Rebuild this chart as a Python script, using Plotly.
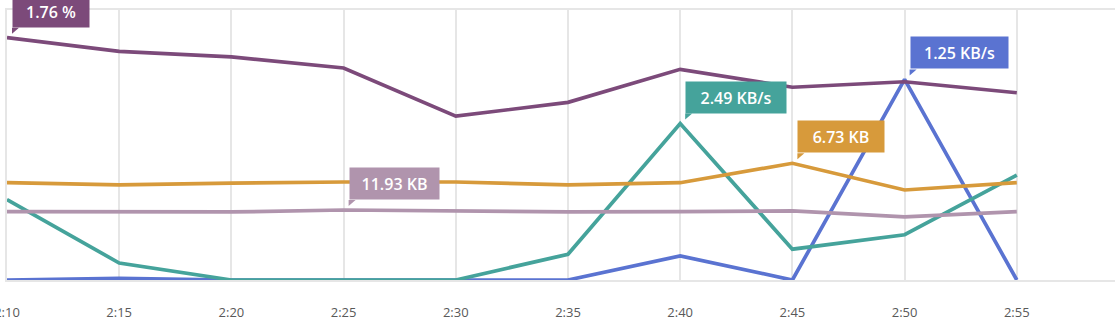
import plotly.graph_objects as go

# ---- data -------------------------------------------------------------
times = ["2024-01-01 02:10", "2024-01-01 02:15", "2024-01-01 02:20", "2024-01-01 02:25",
         "2024-01-01 02:30", "2024-01-01 02:35", "2024-01-01 02:40", "2024-01-01 02:45",
         "2024-01-01 02:50", "2024-01-01 02:55"]

cpu_pct = [1.76, 1.66, 1.62, 1.54, 1.19, 1.29, 1.53, 1.40, 1.44, 1.36]          # %
mem_kb = [5.61, 5.48, 5.59, 5.65, 5.65, 5.48, 5.61, 6.73, 5.19, 5.61]           # KB
heap_kb = [11.64, 11.59, 11.59, 11.93, 11.76, 11.59, 11.64, 11.76, 10.74, 11.64]  # KB
net_in = [1.28, 0.27, 0.0, 0.0, 0.0, 0.41, 2.49, 0.49, 0.72, 1.67]              # KB/s
net_out = [0.0, 0.01, 0.0, 0.0, 0.0, 0.0, 0.15, 0.0, 1.25, 0.0]                 # KB/s

# ---- series styling (drawn bottom to top) --------------------------------
series = [
    # values, unit, colour, axis top, label box width
    dict(values=net_out, unit="KB/s", color="#5A73D1", top=1.683, box=97),
    dict(values=net_in, unit="KB/s", color="#45A39B", top=4.296, box=100),
    dict(values=mem_kb, unit="KB", color="#D79A3B", top=15.57, box=86),
    dict(values=heap_kb, unit="KB", color="#B094AD", top=46.0, box=89),
    dict(values=cpu_pct, unit="%", color="#7C4A7A", top=1.961, box=76),
]

FONT = "Open Sans"
GRID = "#e6e6e6"

fig = go.Figure()
annotations = []
shapes = []

for i, s in enumerate(series):
    axis_id = "y" if i == 0 else f"y{i + 1}"
    fig.add_trace(go.Scatter(
        x=times, y=s["values"], mode="lines", yaxis=axis_id,
        line=dict(color=s["color"], width=3.7), hoverinfo="skip",
        showlegend=False, cliponaxis=False,
    ))
    # label on the series maximum
    k = max(range(len(s["values"])), key=lambda j: s["values"][j])
    v = s["values"][k]
    annotations.append(dict(
        x=times[k], y=v, xref="x", yref=axis_id,
        text=f"{v:.2f} {s['unit']}", showarrow=False,
        xanchor="left", yanchor="bottom", xshift=5, yshift=10,
        bgcolor=s["color"], borderpad=5, width=s["box"] - 10, height=21,
        font=dict(family=FONT, size=16, color="white", weight=600),
    ))
    # small pointer under the label box
    shapes.append(dict(
        type="path", xref="x", yref=axis_id,
        xsizemode="pixel", ysizemode="pixel",
        xanchor=times[k], yanchor=v,
        path="M5,10 L12,10 L5,4 Z",
        fillcolor=s["color"], line=dict(width=0), layer="above",
    ))

layout_axes = {}
for i, s in enumerate(series):
    name = "yaxis" if i == 0 else f"yaxis{i + 1}"
    ax = dict(range=[0, s["top"]], showgrid=False, zeroline=False,
              showticklabels=False, fixedrange=True, automargin=False)
    if i == 0:
        ax.update(showline=True, linecolor=GRID, linewidth=1.5, mirror=False)
    else:
        ax.update(overlaying="y", visible=False)
    layout_axes[name] = ax

fig.update_layout(
    width=1139, height=334,
    margin=dict(l=7, r=10, t=10, b=54, autoexpand=False),
    paper_bgcolor="white", plot_bgcolor="white",
    xaxis=dict(
        type="date",
        range=["2024-01-01 02:10", "2024-01-01 03:00"],
        dtick=5 * 60 * 1000, tick0="2024-01-01 02:10",
        tickformat="%-H:%M",
        showgrid=True, gridcolor=GRID, gridwidth=1.5,
        showline=True, linecolor=GRID, linewidth=1.5, mirror=True,
        zeroline=False, ticks="", ticklabelstandoff=20,
        ticklabeloverflow="allow", automargin=False,
        tickfont=dict(family=FONT, size=13, color="#595959"),
        fixedrange=True,
    ),
    annotations=annotations,
    shapes=shapes,
    **layout_axes,
)

fig.write_html(
    "out.html",
    post_script="document.documentElement.style.overflow='hidden';"
                "document.body.style.overflow='hidden';document.body.style.margin='0';",
)
